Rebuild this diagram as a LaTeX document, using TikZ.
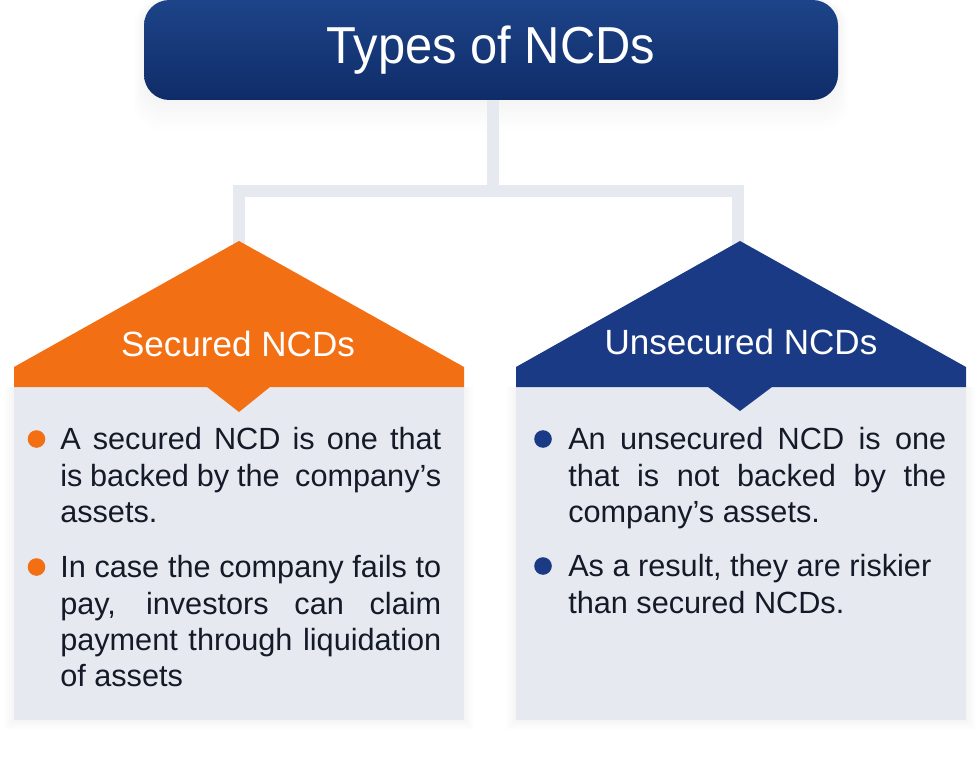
\documentclass[tikz,border=0pt]{standalone}
\usepackage{fontspec}
\usepackage{tikz}
\setmainfont{Liberation Sans}
\newfontfamily\tallfont[FakeStretch=.94]{Liberation Sans}

\definecolor{navy}{HTML}{1A3A85}
\definecolor{navytop}{HTML}{1D4489}
\definecolor{navybot}{HTML}{0F2C68}
\definecolor{ncdorange}{HTML}{F36F13}
\definecolor{panelgrey}{HTML}{E6E9EF}
\definecolor{bodyink}{HTML}{141A28}

\newcommand{\jline}[1]{\makebox[285.75pt][s]{#1}}
\newcommand{\jlineR}[1]{\makebox[283.5pt][s]{#1}}

\tikzset{
	panel/.style={fill=panelgrey, minimum width=337.5pt, minimum height=249.75pt, inner sep=0pt},
	heading/.style={text=#1, font=\fontsize{26.3}{30}\selectfont, inner sep=0pt},
	bodytext/.style={text=bodyink, font=\fontsize{23}{27.2}\selectfont, anchor=north west, align=left, inner sep=0pt},
	bullet/.style={circle, fill=#1, minimum size=13.2pt, inner sep=0pt},
	link/.style={draw=panelgrey, line width=9pt},
}

\begin{document}
\begin{tikzpicture}[x=0.75pt,y=-0.75pt]

	\useasboundingbox (0,0) rectangle (980,762);

	% soft shadows
	\foreach \g in {1,...,10} {
		\fill[black,opacity=.005,rounded corners=19pt] (144-\g,0) rectangle (838+\g,100+3*\g);
		\fill[black,opacity=.003] (14-\g,387) rectangle (464+\g,720+\g);
		\fill[black,opacity=.003] (516-\g,387) rectangle (966+\g,720+\g);
	}

	% top box
	\node[rounded corners=19pt, top color=navytop, bottom color=navybot, text=white,
		minimum width=520.5pt, minimum height=75pt, inner sep=0pt,
		font=\tallfont\fontsize{39}{42}\selectfont] (title) at (491,50) {\raisebox{-1.5pt}{Types of NCDs}};

	% connectors
	\coordinate (hub) at (492.5,191.5);
	\coordinate (secapex) at (239,246);
	\coordinate (unsapex) at (738,246);
	\draw[link] (hub) -- (hub |- title.south);
	\draw[link] (secapex) |- (hub);
	\draw[link] (unsapex) |- (hub);

	% panels
	\node[panel] (secpanel) at (239,553.5) {};
	\node[panel] (unspanel) at (741,553.5) {};

	% roofs
	\fill[ncdorange] (14,387) -- (14,367) -- (239,241) -- (464,367) -- (464,387)
		-- (270,387) -- (239,412) -- (207,387) -- cycle;
	\fill[navy] (516,387) -- (516,367) -- (740,241) -- (966,367) -- (966,387)
		-- (772,387) -- (740,411) -- (708,387) -- cycle;

	\node[heading=white] (sechead) at (238,344) {Secured NCDs};
	\node[heading=white] (unshead) at (741,342) {Unsecured NCDs};

	% left column
	\node[bullet=ncdorange] (secdota) at (36.5,439) {};
	\node[bullet=ncdorange] (secdotb) at (36.5,567) {};
	\node[bodytext] (secbodya) at (60,427.5) {\jline{A secured NCD is one that}\\
		\jline{is backed by the\ \ company's}\\assets.};
	\node[bodytext] (secbodyb) at (60,555.5) {\jline{In case the company fails to}\\
		\jline{pay, investors can claim}\\
		\jline{payment through liquidation}\\of assets};

	% right column
	\node[bullet=navy] (unsdota) at (543,439) {};
	\node[bullet=navy] (unsdotb) at (543,566) {};
	\node[bodytext] (unsbodya) at (568,427.5) {\jlineR{An unsecured NCD is one}\\
		\jlineR{that is not backed by the}\\company's assets.};
	\node[bodytext] (unsbodyb) at (568,554.5) {As a result, they are riskier\\than secured NCDs.};

\end{tikzpicture}
\end{document}
